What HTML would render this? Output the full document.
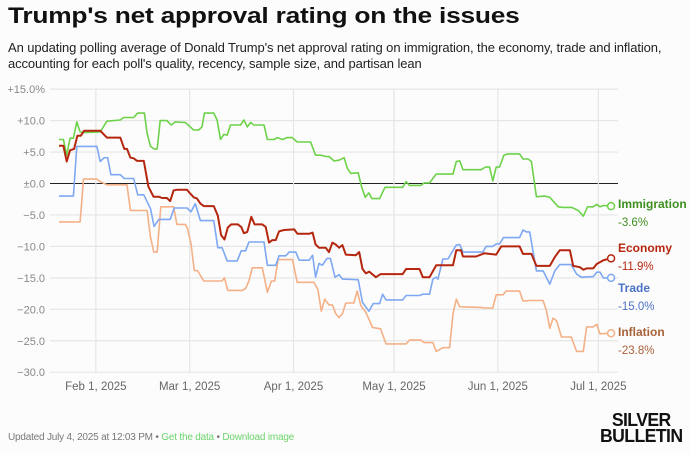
<!DOCTYPE html>
<html><head><meta charset="utf-8"><style>
body{margin:0;background:#fcfcfc;width:690px;height:453px;overflow:hidden;font-family:"Liberation Sans",sans-serif}
#title{position:absolute;left:8px;top:3px;font-size:22.5px;font-weight:900;color:#111;letter-spacing:-0.2px;white-space:nowrap;transform:scaleX(1.17);transform-origin:left}
#sub{position:absolute;left:8px;top:40px;font-size:13px;line-height:16px;color:#222;width:680px;letter-spacing:-0.1px}
#foot{position:absolute;left:8px;top:432px;font-size:10px;color:#777;letter-spacing:-0.2px}
#foot span{color:#6cd36c}
#logo{position:absolute;left:600px;top:412px;font-size:18px;line-height:16px;font-weight:900;color:#111;letter-spacing:-0.6px;text-align:center;transform:scaleX(0.98);transform-origin:left}
</style></head><body>
<div id="title">Trump's net approval rating on the issues</div>
<div id="sub">An updating polling average of Donald Trump's net approval rating on immigration, the economy, trade and inflation, accounting for each poll's quality, recency, sample size, and partisan lean</div>
<svg id="chart" width="690" height="453" style="position:absolute;left:0;top:0"></svg>
<div id="foot">Updated July 4, 2025 at 12:03 PM • <span>Get the data</span> • <span>Download image</span></div>
<div id="logo">SILVER<br>BULLETIN</div>
<script>
const yTicks=[15,10,5,0,-5,-10,-15,-20,-25,-30];
const yTickLabels=["+15.0%","+10.0","+5.0","±0.0","−5.0","−10.0","−15.0","−20.0","−25.0","−30.0"];
const xTickDays=[11,39,70,100,131,161];
const xTickLabels=["Feb 1, 2025","Mar 1, 2025","Apr 1, 2025","May 1, 2025","Jun 1, 2025","Jul 1, 2025"];
const seriesNames=["Immigration","Economy","Trade","Inflation"];
const lastLabels=["-3.6%","-11.9%","-15.0%","-23.8%"];
const immDays=[0,1.3,2.3,3.3,4.3,5.3,6.3,7.3,12.3,14.3,18.3,19.3,22.3,23.5,25.5,26.3,27.3,28.4,29.3,30.2,32.2,33.5,34.7,37.7,40.2,41.7,42.7,43.4,46.2,47.2,48.2,49.2,50.2,51.2,54.2,55.2,56.2,57.2,58.2,61.2,62.2,64.2,65.2,66.7,68.1,69.6,71.1,75.1,76.6,78.1,79.6,80.6,82.1,83.6,85.1,86.1,87.1,89.3,90.3,91.4,92.5,93.4,95.7,97.3,102.6,103.6,104.6,108,109,110.6,112.6,117.6,118.6,119.6,120.6,126,127.3,128.5,129.5,130.5,131.5,132.8,134,137.5,138.5,140,141,142.5,145,146.5,149,150.5,153,155,156.5,157.8,159.5,160.5,161.5,162.5,164.8];
const immVals=[7.0,7.0,4.5,7.2,7.2,9.8,8.2,8.1,8.2,9.9,10.1,10.5,10.5,11.2,11.2,8.0,5.9,5.5,5.5,10.0,10.0,9.3,9.8,9.7,8.5,8.5,9.0,11.2,11.2,10.1,7.0,7.8,7.7,9.3,9.3,10.1,9.0,9.7,9.3,9.3,7.0,7.0,7.3,7.0,7.3,7.3,6.6,6.6,4.5,4.5,4.3,4.3,3.6,3.7,4.1,2.4,1.6,1.7,-0.5,-2.2,-1.5,-2.4,-2.4,-0.6,-0.6,0.3,-0.3,-0.3,0.1,0.1,1.5,1.5,3.5,3.6,2.2,2.2,2.6,2.6,0.4,2.6,2.6,4.5,4.7,4.7,3.9,3.9,3.5,-2.1,-2.0,-2.2,-3.7,-3.8,-3.8,-4.3,-5.2,-3.7,-3.7,-3.3,-3.7,-3.5,-3.6];
const ecoDays=[0,1.3,2.3,3.3,4.5,5.5,6.5,7.5,12.3,14.3,18.3,19.5,20.3,21.3,22.3,23.3,25.3,26.7,28.2,29.8,30.8,32.2,33.2,34.2,35.2,38.2,39.2,40.2,41.2,42.2,43.2,46.2,47.4,48.4,49.4,50.4,51.4,53.4,54.4,55.2,56.2,57.4,58.4,60.7,61.7,62.7,63.7,64.7,65.7,67.2,70.2,71.2,74.7,75.7,76.6,77.6,79.6,80.6,81.6,82.6,83.6,84.6,85.6,88.6,89.6,90.6,91.6,92.6,94.6,96,102.6,103.6,107.6,108.6,110.6,112.6,117.6,118.6,120,120.6,124.5,127,128.5,130.5,132,137.5,138.5,141,142.5,146.5,148,149.5,152.5,153.5,155.5,156.5,157.5,159.5,160.5,162.5,164.8];
const ecoVals=[6.0,6.0,3.5,5.3,5.5,7.6,7.6,8.4,8.4,7.3,7.3,5.5,5.5,4.1,4.0,3.6,3.6,-0.5,-2.1,-2.1,-2.3,-2.3,-2.8,-1.1,-1.0,-1.0,-1.6,-2.2,-2.4,-3.2,-3.6,-3.6,-5.1,-8.2,-8.9,-7.0,-6.5,-6.5,-6.9,-7.9,-7.7,-5.3,-6.5,-6.5,-6.9,-9.4,-9.0,-9.0,-7.6,-7.4,-7.3,-8.0,-8.0,-7.8,-9.7,-10.2,-10.2,-10.9,-9.4,-9.7,-10.2,-9.8,-11.3,-11.4,-10.9,-13.6,-14.3,-14.0,-14.9,-14.4,-14.4,-13.6,-13.6,-14.9,-14.9,-13.0,-13.0,-10.6,-10.6,-11.6,-11.6,-11.1,-11.2,-11.3,-10.0,-10.0,-11.2,-11.2,-13.1,-13.1,-11.7,-10.6,-10.6,-13.1,-13.3,-13.7,-13.5,-13.5,-12.8,-12.2,-11.9];
const trdDays=[0,4.3,5.3,11.3,12.3,13.5,14.5,15.5,18.3,19.5,22.3,23.5,25.3,27.3,28.4,29.8,33.2,34.4,38.2,39.4,40.7,42.2,46.2,47.4,48.7,50.2,53.2,54.4,55.7,56.7,61.2,62.2,64.7,65.7,67.7,68.7,70.7,71.7,74.7,75.7,76.6,77.6,78.6,80,81,82.4,83.6,84.6,89.3,90.6,92.5,93.8,95.7,96.6,97.6,102.6,103.6,107.6,108.6,110.6,111.6,112.6,113.1,114.6,116.1,118.6,119.6,120.6,126.5,127.5,129.5,130.5,131.5,132.7,137.5,138.5,139.5,140.5,142.5,144.5,146.5,148,149.5,152.9,154.5,155.9,159.5,160.5,161.5,162.5,164.8];
const trdVals=[-2.0,-2.0,5.9,5.9,3.5,4.1,4.1,1.4,1.4,0.8,0.8,-1.8,-1.8,-4.0,-6.8,-5.7,-5.7,-3.9,-3.9,-4.5,-3.2,-5.9,-5.9,-10.2,-10.2,-12.3,-12.3,-10.7,-10.7,-9.3,-9.3,-13.0,-13.0,-11.5,-11.5,-10.9,-10.9,-12.2,-12.2,-11.4,-14.9,-12.7,-13.0,-11.9,-11.9,-14.9,-14.5,-15.2,-15.3,-18.9,-20.3,-19.1,-19.1,-17.6,-18.5,-18.5,-17.8,-17.8,-17.6,-17.6,-15.2,-14.9,-15.2,-12.0,-12.0,-9.8,-9.7,-10.9,-10.9,-10.0,-10.0,-9.6,-9.6,-8.6,-8.6,-7.4,-7.7,-7.7,-13.9,-13.9,-16.0,-13.9,-12.9,-12.9,-14.4,-14.9,-14.8,-14.1,-14.1,-15.0,-15.0];
const infDays=[0,6.3,7.3,11.3,12.3,14.3,20.3,21.3,26.3,27.3,28.3,29.3,30.4,34.2,35.2,37.7,38.4,39.4,40.4,41.4,43.2,48.7,49.4,50.4,54.7,55.7,56.7,57.7,60.7,62.2,63.4,64.4,65.4,69.7,71.1,76.1,77.3,78.3,79.3,80.6,81.6,82.6,83.6,84.6,85.6,88,89,90.1,91.6,93.6,96,97.6,103.6,104.6,108,109,111.6,112.6,114.6,116.6,117.6,118.6,119.6,126,127,129.5,130.5,132.5,133.5,137.5,138.5,140.5,144.5,145.5,146.5,147.5,148.5,150,152.9,154.5,156.5,157.5,159.5,160.5,161.5,164.8];
const infVals=[-6.1,-6.1,0.7,0.7,0.3,-0.2,-0.2,-4.3,-4.3,-8.5,-10.9,-10.9,-3.7,-3.7,-6.5,-6.5,-7.2,-9.6,-13.8,-13.9,-15.5,-15.5,-15.0,-17.0,-17.0,-16.7,-15.5,-13.4,-13.4,-17.3,-15.5,-15.5,-12.1,-12.1,-15.7,-15.7,-16.9,-20.3,-18.4,-19.3,-19.3,-20.7,-21.3,-20.7,-19.0,-19.0,-17.1,-19.4,-20.5,-22.9,-23.1,-25.5,-25.5,-24.9,-24.9,-25.3,-25.3,-26.7,-26.1,-26.1,-20.7,-18.4,-19.6,-19.7,-19.8,-19.8,-17.7,-17.7,-17.1,-17.1,-18.7,-18.6,-18.6,-20.2,-23.0,-21.4,-21.8,-24.4,-24.4,-26.7,-26.7,-22.8,-22.8,-22.4,-23.9,-23.8];

const NS="http://www.w3.org/2000/svg";
const svg=document.getElementById('chart');
const x=d=>59+d*3.35;
const y=v=>183.5-v*6.29;
function mk(tag,attrs){const e=document.createElementNS(NS,tag);for(const k in attrs)e.setAttribute(k,attrs[k]);svg.appendChild(e);return e;}
yTicks.forEach((t,i)=>{
  const g=mk('line',{x1:50,x2:618,y1:y(t),y2:y(t),stroke:t===0?'#222':'#e6e6e6','stroke-width':t===0?1:1.2});
  
  
  const l=mk('text',{x:45,y:y(t)+4,'text-anchor':'end','font-size':11,fill:'#888','font-family':'Liberation Sans, sans-serif'});
  l.textContent=yTickLabels[i];
  
  
});
xTickDays.forEach((d,i)=>{
  const g=mk('line',{x1:x(d),x2:x(d),y1:89,y2:373,stroke:'#e6e6e6','stroke-width':1.2});
  
  
  const l=mk('text',{x:x(d),y:390,'text-anchor':'middle','font-size':11.5,fill:'#666','font-family':'Liberation Sans, sans-serif'});
  l.textContent=xTickLabels[i];
  
  
});
const colors=['#6dd24a','#b5260f','#7ea8f2','#f4b087'];
const textColors=['#3f8f1f','#b5260f','#4a72c4','#a8623a'];
const dayArrs=[immDays,ecoDays,trdDays,infDays];
const valArrs=[immVals,ecoVals,trdVals,infVals];
const labelY=[208,252,292,336];
[3,2,0,1].forEach(s=>{
  const pts=dayArrs[s].map((d,i)=>x(d).toFixed(1)+','+y(valArrs[s][i]).toFixed(1)).join(' ');
  const p=mk('polyline',{points:pts,fill:'none',stroke:colors[s],'stroke-width':s===1?2:1.6,'stroke-linejoin':'round'});
  
  
  const n=dayArrs[s].length-1;
  const c=mk('circle',{cx:x(dayArrs[s][n]),cy:y(valArrs[s][n]),r:3.5,fill:'#fff',stroke:colors[s],'stroke-width':1.5});
  
  
});
seriesNames.forEach((nm,s)=>{
  const t=mk('text',{x:618,y:labelY[s],'font-size':12,'font-weight':'bold',fill:textColors[s],'font-family':'Liberation Sans, sans-serif'});
  t.textContent=nm;
  
  
  const v=mk('text',{x:618,y:labelY[s]+18,'font-size':11.5,fill:textColors[s],'font-family':'Liberation Sans, sans-serif'});
  v.textContent=lastLabels[s];
  
  
});
</script>
</body></html>
